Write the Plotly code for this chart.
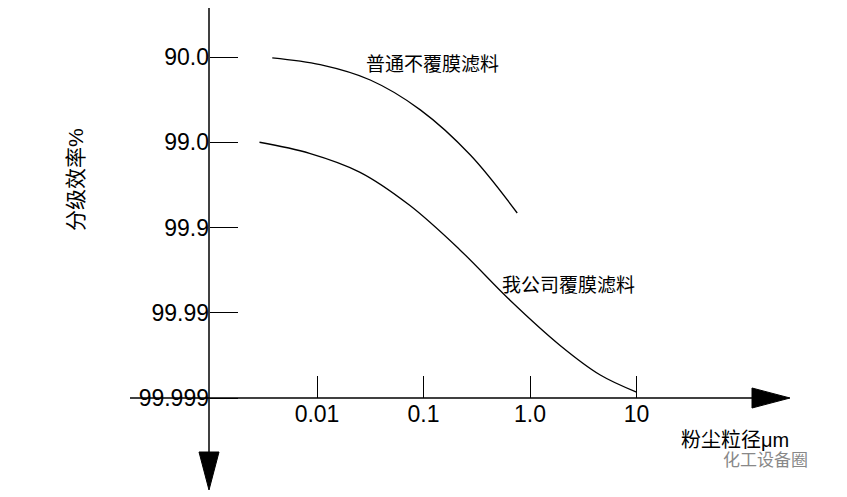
import plotly.graph_objects as go

# x in decades (log10 of particle size, um); y in "number of nines" units
x_ticks = [-2, -1, 0, 1]
x_labels = ["0.01", "0.1", "1.0", "10"]
y_ticks = [1, 2, 3, 4, 5]
y_labels = ["90.0", "99.0", "99.9", "99.99", "99.999"]

upper_x = [-2.42, -1.97, -1.50, -1.03, -0.56, -0.12]
upper_y = [1.01, 1.09, 1.27, 1.62, 2.15, 2.83]
lower_x = [-2.54, -2.07, -1.60, -1.13, -0.66, -0.19, 0.28, 0.66, 1.00]
lower_y = [2.00, 2.13, 2.35, 2.74, 3.26, 3.85, 4.38, 4.73, 4.93]

FONT = "Liberation Sans Narrow, Liberation Sans, Noto Sans CJK SC"
OFF = 8  # page offset of the plot div
fig = go.Figure()
for xs, ys in [(upper_x, upper_y), (lower_x, lower_y)]:
    fig.add_trace(go.Scatter(x=xs, y=ys, mode="lines", line=dict(color="black", width=1.3, shape="spline"),
                             showlegend=False, hoverinfo="skip"))

def px(xp, yp):
    return -2 + (xp - 317) / 106.5, 1 + (yp - 57) / 85.25

X0, Y0 = px(OFF, OFF)
X1, Y1 = px(847 + OFF, 497 + OFF)
yax_x = px(209, 0)[0]
fig.update_layout(
    width=847, height=497, margin=dict(l=0, r=0, t=0, b=0),
    paper_bgcolor="white", plot_bgcolor="white",
    xaxis=dict(range=[X0, X1], showgrid=False, zeroline=False, tickvals=x_ticks, ticktext=x_labels,
               ticks="inside", ticklen=22, tickcolor="black", anchor="free", position=1 - (398 - OFF) / 497,
               tickfont=dict(family=FONT, size=23, color="black")),
    yaxis=dict(range=[Y1, Y0], showgrid=False, zeroline=False, tickvals=y_ticks, ticktext=y_labels,
               ticks="inside", ticklen=28, tickcolor="black", anchor="free", position=(209 - OFF) / 847,
               tickfont=dict(family=FONT, size=23, color="black")),
)
ax0, _ = px(130, 0); ax1, _ = px(780, 0)
fig.add_shape(type="line", x0=ax0, x1=ax1, y0=5, y1=5, line=dict(color="black", width=1.5))
_, ty = px(0, 5); _, by = px(0, 480)
fig.add_shape(type="line", x0=yax_x, x1=yax_x, y0=ty, y1=by, line=dict(color="black", width=1.5))
tipx, _ = px(790, 0); basex, _ = px(752, 0)
fig.add_shape(type="path", path="M {a},{b} L {c},{d} L {c},{e} Z".format(
    a=tipx, b=5, c=basex, d=5 - 10 / 85.25, e=5 + 10 / 85.25),
    fillcolor="black", line=dict(color="black", width=1))
_, tipy = px(0, 490); _, basey = px(0, 452)
fig.add_shape(type="path", path="M {a},{b} L {c},{d} L {e},{d} Z".format(
    a=yax_x, b=tipy, c=yax_x - 10 / 106.5, d=basey, e=yax_x + 10 / 106.5),
    fillcolor="black", line=dict(color="black", width=1))

for txt, (xp, yp), size, ang, col in [
    ("普通不覆膜滤料", (432, 64), 19, 0, "black"),
    ("我公司覆膜滤料", (568, 285), 19, 0, "black"),
    ("分级效率%", (75, 180), 21, -90, "black"),
    ("粉尘粒径μm", (735, 440), 20, 0, "black"),
    ("化工设备圈", (765, 460), 17, 0, "#888888"),
]:
    ax, ay = px(xp, yp)
    fig.add_annotation(x=ax, y=ay, text=txt, showarrow=False, textangle=ang,
                       font=dict(family=FONT, size=size, color=col))
fig.write_html("out.html")
